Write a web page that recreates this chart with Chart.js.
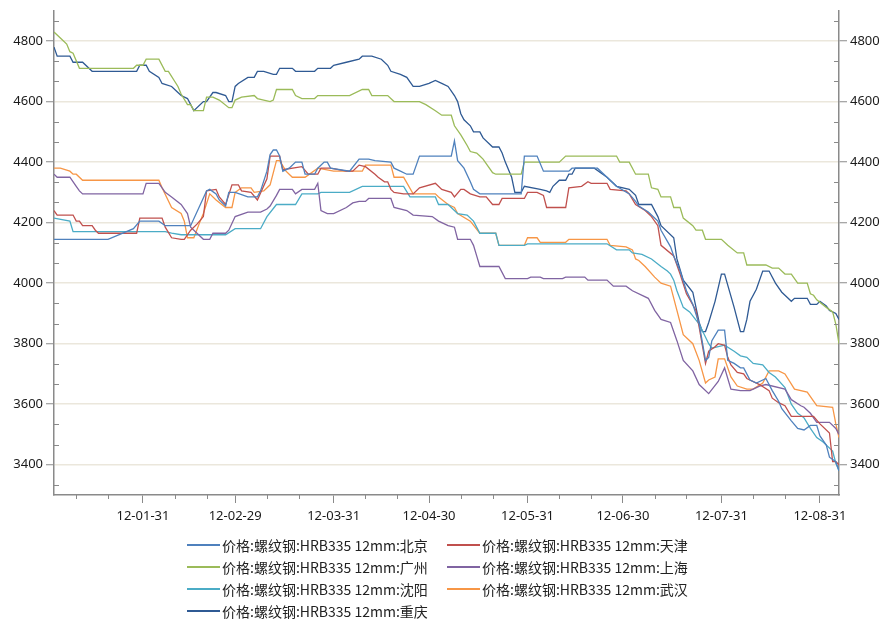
<!DOCTYPE html>
<html>
<head>
<meta charset="utf-8">
<script src="https://cdn.jsdelivr.net/npm/chart.js@4.4.1/dist/chart.umd.min.js"></script>
<style>
  body { margin: 0; background: #fff; }
  #wrap { position: relative; width: 888px; height: 622px; }
  #legend { position: absolute; left: 187px; top: 534px; display: grid; grid-template-columns: 260px 260px;
            font-family: "Noto Sans CJK SC", sans-serif; font-size: 14px; color: #222; }
  .item { position: relative; height: 22px; line-height: 22px; padding-left: 35px; white-space: nowrap; }
  .ln { position: absolute; left: 0; top: 10px; width: 33px; height: 2px; }
</style>
</head>
<body>
<div id="wrap"><canvas id="myChart" width="888" height="622"></canvas><div id="legend"></div></div>
<script>
// x = day of year 2012 (1 = Jan 1), y = price
var beijing = [[3,4145],[20,4145],[28,4180],[30,4205],[36,4205],[38,4190],[46,4190],[51,4305],[52,4310],[54,4295],[55,4275],[57,4255],[58,4300],[60,4300],[64,4285],[67,4285],[68,4305],[70,4370],[71,4425],[72,4440],[73,4440],[74,4420],[75,4370],[77,4380],[79,4400],[81,4400],[82,4360],[85,4360],[86,4380],[88,4400],[89,4400],[90,4380],[96,4370],[99,4410],[102,4410],[104,4405],[109,4400],[110,4380],[112,4370],[114,4360],[116,4360],[118,4420],[128,4420],[129,4470],[130,4405],[132,4380],[134,4335],[135,4310],[137,4295],[150,4295],[151,4420],[155,4420],[157,4370],[165,4370],[166,4380],[174,4380],[177,4350],[180,4320],[184,4295],[186,4270],[187,4255],[190,4235],[193,4205],[194,4175],[197,4120],[198,4090],[200,4040],[202,3975],[204,3930],[206,3865],[208,3745],[209,3755],[210,3810],[212,3845],[214,3845],[215,3745],[217,3735],[219,3720],[220,3720],[222,3680],[224,3670],[227,3685],[229,3645],[231,3610],[232,3585],[235,3545],[237,3520],[239,3515],[241,3530],[243,3530],[244,3495],[246,3465],[247,3425],[249,3410],[250,3380]];
var tianjin = [[3,4240],[4,4225],[9,4225],[10,4205],[11,4205],[12,4190],[15,4190],[16,4175],[17,4165],[29,4165],[30,4215],[37,4215],[38,4185],[40,4150],[43,4145],[44,4145],[46,4175],[48,4195],[50,4220],[51,4305],[54,4310],[55,4285],[57,4260],[59,4325],[61,4325],[62,4305],[65,4300],[67,4275],[70,4345],[71,4420],[74,4420],[75,4375],[81,4385],[83,4360],[86,4360],[87,4380],[90,4380],[95,4370],[97,4370],[99,4390],[101,4385],[104,4360],[105,4350],[107,4335],[108,4335],[109,4310],[110,4300],[113,4295],[116,4295],[118,4315],[123,4330],[125,4310],[128,4300],[129,4285],[131,4310],[132,4310],[134,4295],[137,4285],[139,4285],[141,4260],[143,4260],[144,4280],[151,4280],[152,4300],[155,4300],[157,4290],[158,4250],[164,4250],[165,4315],[169,4320],[171,4335],[172,4330],[177,4330],[178,4310],[183,4305],[184,4295],[186,4260],[189,4240],[191,4220],[193,4190],[194,4125],[198,4090],[200,4030],[202,3965],[205,3910],[206,3855],[208,3735],[209,3775],[211,3790],[212,3800],[214,3795],[215,3755],[216,3730],[218,3705],[220,3700],[221,3685],[225,3665],[228,3645],[229,3620],[231,3605],[233,3595],[235,3560],[242,3560],[244,3535],[247,3505],[248,3410],[249,3410],[250,3400]];
var guangzhou = [[3,4830],[5,4810],[7,4790],[8,4765],[9,4760],[11,4710],[28,4710],[29,4720],[31,4720],[32,4740],[36,4740],[38,4700],[39,4700],[42,4650],[43,4625],[45,4590],[46,4590],[47,4570],[50,4570],[51,4615],[53,4615],[55,4605],[58,4580],[59,4580],[60,4605],[62,4615],[66,4620],[67,4610],[71,4600],[72,4605],[73,4640],[78,4640],[79,4620],[81,4610],[85,4610],[86,4620],[96,4620],[100,4640],[102,4640],[103,4620],[108,4620],[110,4600],[118,4600],[120,4590],[123,4570],[125,4555],[128,4555],[129,4520],[131,4490],[133,4455],[134,4435],[136,4430],[137,4420],[138,4410],[141,4365],[142,4360],[150,4360],[151,4400],[162,4400],[164,4420],[180,4420],[181,4400],[184,4400],[186,4360],[190,4360],[191,4315],[193,4310],[194,4285],[197,4285],[198,4250],[200,4250],[201,4215],[204,4190],[205,4175],[207,4175],[208,4145],[213,4145],[215,4125],[218,4100],[220,4100],[221,4060],[227,4060],[229,4050],[231,4050],[233,4030],[235,4030],[237,4000],[240,4000],[241,3965],[242,3960],[243,3945],[246,3920],[248,3905],[249,3865],[250,3800]];
var shanghai = [[3,4360],[4,4350],[8,4350],[10,4320],[11,4305],[12,4295],[31,4295],[32,4330],[36,4330],[38,4300],[40,4285],[43,4260],[45,4230],[46,4185],[48,4165],[50,4145],[52,4145],[53,4165],[57,4165],[58,4175],[60,4220],[64,4235],[68,4235],[70,4245],[71,4255],[73,4290],[74,4310],[78,4310],[79,4295],[81,4310],[85,4310],[86,4330],[87,4240],[89,4230],[91,4230],[95,4250],[97,4265],[99,4270],[101,4270],[102,4280],[109,4280],[110,4250],[114,4240],[116,4225],[122,4220],[124,4205],[127,4190],[129,4185],[130,4145],[134,4145],[135,4125],[136,4090],[137,4055],[143,4055],[145,4015],[152,4015],[153,4020],[156,4020],[157,4015],[163,4015],[164,4020],[170,4020],[171,4010],[177,4010],[179,3990],[183,3990],[185,3975],[190,3950],[192,3910],[194,3880],[197,3870],[199,3810],[201,3745],[204,3710],[206,3665],[209,3635],[212,3675],[214,3720],[216,3650],[219,3645],[222,3645],[225,3660],[227,3665],[233,3650],[235,3615],[238,3595],[239,3590],[241,3570],[243,3540],[247,3540],[249,3520],[250,3500]];
var shenyang = [[3,4215],[8,4205],[9,4170],[38,4170],[40,4165],[43,4160],[57,4160],[60,4180],[68,4180],[70,4220],[73,4260],[79,4260],[81,4295],[86,4295],[87,4300],[96,4300],[100,4320],[113,4320],[115,4285],[123,4285],[124,4260],[127,4260],[129,4240],[130,4230],[133,4225],[135,4205],[137,4165],[142,4165],[143,4125],[151,4125],[152,4130],[177,4130],[180,4110],[184,4110],[185,4100],[188,4095],[191,4080],[194,4055],[196,4040],[197,4030],[198,4010],[199,3975],[201,3920],[203,3905],[206,3865],[209,3800],[210,3785],[212,3790],[214,3795],[217,3775],[219,3760],[221,3755],[223,3735],[226,3730],[228,3705],[230,3690],[233,3655],[235,3600],[237,3570],[239,3555],[241,3520],[243,3490],[245,3475],[248,3445],[249,3405],[250,3380]];
var wuhan = [[3,4380],[5,4380],[8,4370],[9,4360],[10,4360],[12,4340],[36,4340],[37,4315],[40,4250],[43,4230],[44,4205],[45,4150],[47,4150],[49,4205],[50,4230],[52,4295],[54,4275],[57,4250],[59,4250],[60,4300],[62,4315],[65,4315],[66,4300],[69,4305],[71,4325],[73,4405],[74,4405],[76,4370],[77,4360],[78,4350],[82,4350],[86,4380],[91,4370],[100,4370],[101,4390],[109,4390],[110,4350],[113,4350],[116,4295],[123,4295],[124,4285],[127,4260],[129,4250],[130,4230],[134,4205],[137,4165],[142,4165],[143,4125],[151,4125],[152,4150],[155,4150],[156,4135],[164,4135],[165,4145],[177,4145],[178,4125],[183,4120],[185,4110],[186,4080],[187,4075],[189,4055],[192,4020],[194,4000],[197,3990],[199,3910],[201,3830],[204,3800],[206,3745],[208,3670],[209,3680],[211,3690],[212,3750],[214,3750],[216,3690],[218,3660],[221,3650],[223,3650],[226,3670],[228,3710],[231,3710],[233,3700],[236,3650],[240,3640],[243,3595],[248,3590],[249,3535],[250,3490]];
var chongqing = [[3,4780],[4,4750],[8,4750],[9,4730],[12,4730],[15,4700],[29,4700],[30,4720],[32,4720],[33,4700],[36,4680],[37,4660],[40,4650],[42,4630],[43,4620],[45,4610],[47,4570],[50,4600],[51,4600],[53,4630],[54,4630],[57,4620],[58,4600],[59,4600],[60,4650],[61,4660],[64,4680],[66,4680],[67,4700],[69,4700],[72,4690],[73,4690],[74,4710],[78,4710],[79,4700],[85,4700],[86,4710],[90,4710],[91,4720],[95,4730],[99,4740],[100,4750],[103,4750],[106,4740],[108,4720],[109,4700],[112,4690],[114,4680],[116,4650],[118,4650],[121,4660],[123,4670],[125,4660],[127,4650],[129,4620],[130,4600],[131,4560],[132,4540],[134,4520],[135,4500],[137,4500],[138,4480],[141,4450],[143,4450],[144,4430],[145,4400],[147,4350],[148,4300],[150,4300],[151,4320],[156,4310],[158,4305],[159,4300],[160,4320],[162,4340],[164,4340],[165,4360],[166,4360],[167,4380],[173,4380],[177,4350],[180,4320],[184,4310],[186,4290],[187,4260],[191,4260],[193,4220],[194,4190],[198,4150],[199,4080],[201,4010],[204,3970],[205,3920],[206,3870],[207,3840],[208,3840],[209,3870],[211,3940],[213,4030],[214,4030],[217,3920],[219,3840],[220,3840],[221,3880],[222,3940],[224,3980],[226,4040],[228,4040],[230,4000],[232,3970],[234,3950],[235,3940],[236,3950],[240,3950],[241,3930],[243,3930],[244,3940],[246,3925],[247,3910],[249,3900],[250,3880]];

var cities = ['北京', '天津', '广州', '上海', '沈阳', '武汉', '重庆'];
var series = [beijing, tianjin, guangzhou, shanghai, shenyang, wuhan, chongqing];
var colors = ['#4f81bd', '#c0504d', '#9bbb59', '#8064a2', '#4bacc6', '#f79646', '#2f5a94'];

var monthEnds = [31, 60, 91, 121, 152, 182, 213, 244];
var tickLabels = ['12-01-31', '12-02-29', '12-03-31', '12-04-30', '12-05-31', '12-06-30', '12-07-31', '12-08-31'];
var monthStarts = [1, 32, 61, 92, 122, 153, 183, 214, 245];
var yTicks = [3400, 3600, 3800, 4000, 4200, 4400, 4600, 4800];

var axisColor = '#8a8a8a';
var tickFont = { family: 'Noto Sans', size: 13 };

var minorDays = [];
monthStarts.forEach(function(s) { [s + 9, s + 19].forEach(function(d) { if (d > 3 && d < 250) minorDays.push(d); }); });
var minorVals = [];
yTicks.concat([3200]).forEach(function(v) { [v + 200 / 3, v + 400 / 3].forEach(function(m) { if (m > 3300 && m < 4900) minorVals.push(m); }); });

var minorTicks = {
    id: 'minorTicks',
    afterDraw: function(chart) {
        var c = chart.ctx, a = chart.chartArea;
        var sx = chart.scales.x, sy = chart.scales.y;
        c.save();
        c.strokeStyle = axisColor;
        c.lineWidth = 1;
        minorDays.forEach(function(d) {
            var px = Math.round(sx.getPixelForValue(d)) + 0.5;
            c.beginPath(); c.moveTo(px, a.bottom); c.lineTo(px, a.bottom + 4); c.stroke();
        });
        minorVals.forEach(function(v) {
            var py = Math.round(sy.getPixelForValue(v)) + 0.5;
            c.beginPath(); c.moveTo(a.left, py); c.lineTo(a.left + 5, py); c.stroke();
            c.beginPath(); c.moveTo(a.right, py); c.lineTo(a.right - 5, py); c.stroke();
        });
        c.restore();
    }
};

var yAxis = function(pos, w) {
    return {
        position: pos, min: 3300, max: 4900,
        afterBuildTicks: function(s) { s.ticks = yTicks.map(function(v) { return { value: v }; }); },
        afterFit: function(s) { s.width = w; },
        ticks: { font: tickFont, color: '#1a1a1a', padding: 3, callback: function(v) { return String(v); } },
        grid: { drawOnChartArea: pos === 'left', color: '#ebe7dc', lineWidth: 1.5, tickColor: axisColor, tickLength: 8, tickWidth: 1 },
        border: { color: axisColor, width: 1.5 }
    };
};

var graphData = {
    type: 'line',
    data: {
        datasets: series.map(function(s, i) {
            return {
                label: '价格:螺纹钢:HRB335 12mm:' + cities[i],
                data: s.map(function(p) { return { x: p[0], y: p[1] }; }),
                borderColor: colors[i],
                borderWidth: 1.3,
                pointRadius: 0,
                tension: 0,
                yAxisID: 'y'
            };
        })
    },
    options: {
        responsive: false,
        devicePixelRatio: 1,
        animation: false,
        layout: { padding: { top: 10, bottom: 97, left: 0, right: 0 } },
        plugins: { legend: { display: false }, tooltip: { enabled: false } },
        scales: {
            x: {
                type: 'linear', min: 3, max: 250,
                afterBuildTicks: function(s) { s.ticks = monthEnds.map(function(v) { return { value: v }; }); },
                afterFit: function(s) { s.height = 30; },
                ticks: { font: tickFont, color: '#1a1a1a', padding: 5, maxRotation: 0, autoSkip: false,
                         callback: function(v, i) { return tickLabels[i]; } },
                grid: { drawOnChartArea: false, tickColor: axisColor, tickLength: 8 },
                border: { color: axisColor, width: 1.5 }
            },
            y: yAxis('left', 54),
            y2: yAxis('right', 49)
        }
    },
    plugins: [minorTicks]
};
var myChart = new Chart(document.getElementById('myChart'), graphData);

var legend = document.getElementById('legend');
graphData.data.datasets.forEach(function(ds, i) {
    var item = document.createElement('div');
    item.className = 'item';
    var ln = document.createElement('span');
    ln.className = 'ln';
    ln.style.backgroundColor = colors[i];
    item.appendChild(ln);
    item.appendChild(document.createTextNode(ds.label));
    legend.appendChild(item);
});
</script>
</body>
</html>
